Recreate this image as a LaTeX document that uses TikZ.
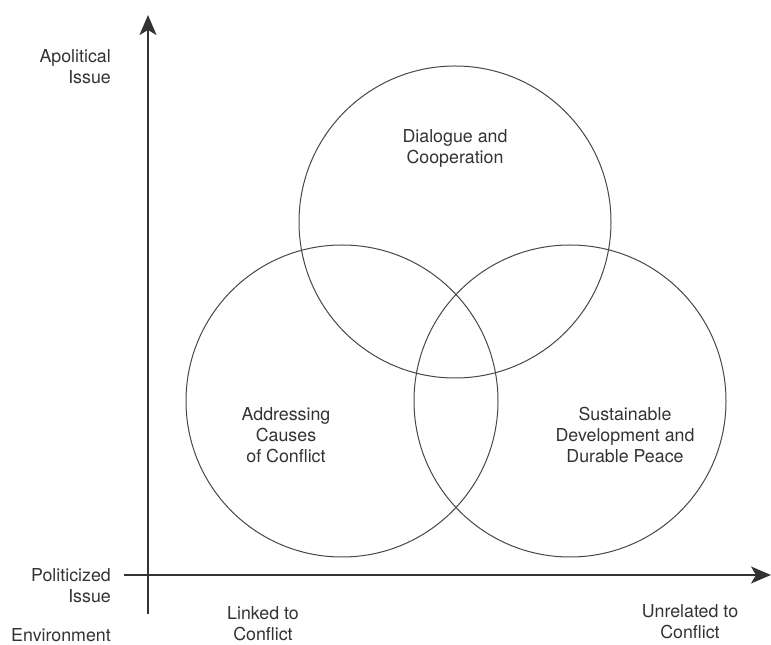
\documentclass[tikz,border=0pt]{standalone}
\usepackage{fontspec}
\setmainfont{TeX Gyre Heros}
\usetikzlibrary{arrows.meta}
\definecolor{ink}{HTML}{333333}
\tikzset{
  axisline/.style={line width=2pt, ink, -{Stealth[length=20pt, width=17pt, inset=5pt]}},
  ring/.style={circle, draw=ink!90, line width=1pt, minimum size=312pt, inner sep=0pt},
  txt/.style={text=ink, inner sep=0pt, font=\fontsize{17.8}{21}\selectfont}
}
\begin{document}
\begin{tikzpicture}[x=1pt, y=1pt]
      \useasboundingbox (0,0) rectangle (771,645);
      % axes
      \coordinate (ybot) at (148,31);
      \coordinate (ytop) at (148,630);
      \coordinate (xleft) at (124,70);
      \coordinate (xright) at (771,70);
      \draw [axisline] (ybot) -- (ytop);
      \draw [axisline] (xleft) -- (xright);
      % circles
      \foreach \name/\cx/\cy in {dialogue/455/423, causes/342/244, peace/570/244}
            \node [ring] (\name) at (\cx,\cy) {};
      \node [txt, align=center] (dlabel) at (455,497) {Dialogue and\\Cooperation};
      \node [txt, align=center] (clabel) at (286,210) {Addressing\\Causes\\of Conflict};
      \node [txt, align=center] (plabel) at (625,210) {Sustainable\\Development and\\Durable Peace};
      % axis labels
      \node [txt, align=right, anchor=east] (apol) at (111,578) {Apolitical\\Issue};
      \node [txt, align=right, anchor=east] (pol) at (111,59) {Politicized\\Issue};
      \node [txt, anchor=east] (env) at (111,10) {Environment};
      \node [txt, align=center] (linked) at (263,21) {Linked to\\Conflict};
      \node [txt, align=center] (unrel) at (690,23) {Unrelated to\\Conflict};
\end{tikzpicture}
\end{document}
